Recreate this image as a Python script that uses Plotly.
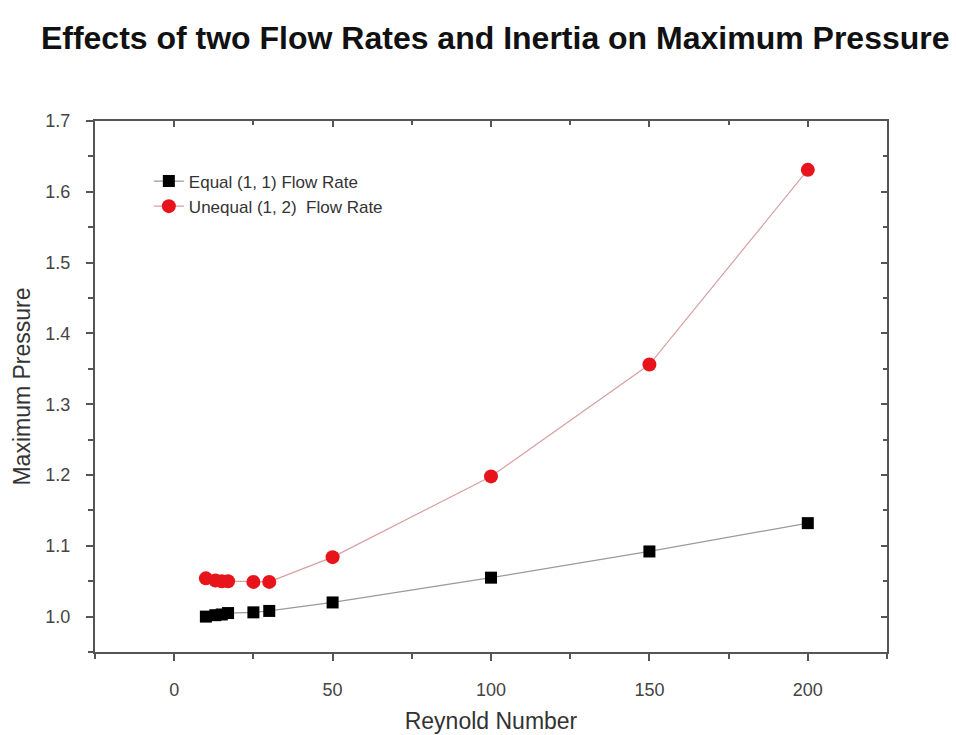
import plotly.graph_objects as go

reynolds = [10, 13, 15, 17, 25, 30, 50, 100, 150, 200]
equal_pressure = [1.000, 1.002, 1.003, 1.005, 1.006, 1.008, 1.020, 1.055, 1.092, 1.132]
unequal_pressure = [1.054, 1.051, 1.050, 1.050, 1.049, 1.049, 1.084, 1.198, 1.356, 1.631]

x_ticks = [0, 50, 100, 150, 200]
y_ticks = [1.0, 1.1, 1.2, 1.3, 1.4, 1.5, 1.6, 1.7]

FONT = "Liberation Sans, Arial, sans-serif"
AXC = "#555555"

fig = go.Figure()
fig.add_trace(go.Scatter(
    x=reynolds, y=equal_pressure, mode="lines+markers",
    name="Equal (1, 1) Flow Rate",
    line=dict(color="#9a9a9a", width=1.2),
    marker=dict(symbol="square", size=12, color="black"),
))
fig.add_trace(go.Scatter(
    x=reynolds, y=unequal_pressure, mode="lines+markers",
    name="Unequal (1, 2)  Flow Rate",
    line=dict(color="#d8a0a0", width=1.2),
    marker=dict(symbol="circle", size=14, color="#e8141c"),
))
# empty helper trace so the mirrored (inside-tick) frame axes are drawn
fig.add_trace(go.Scatter(x=[], y=[], xaxis="x2", yaxis="y2",
                         showlegend=False, hoverinfo="skip"))

axis_common = dict(
    showline=True, linecolor=AXC, linewidth=2, mirror=True,
    ticks="outside", ticklen=7, tickwidth=1.5, tickcolor=AXC,
    showgrid=False, zeroline=False,
    tickfont=dict(family=FONT, size=18, color="#444444"),
)

fig.update_layout(
    width=956, height=735,
    paper_bgcolor="white", plot_bgcolor="white",
    margin=dict(l=95, r=69, t=121, b=83),
    title=dict(text="<b>Effects of two Flow Rates and Inertia on Maximum Pressure</b>",
               x=0.518, xanchor="center", y=0.948, yanchor="middle",
               font=dict(family=FONT, size=32, color="#111111")),
    xaxis=dict(range=[-25, 225], tickvals=x_ticks, ticklabelstandoff=13,
               title=dict(text="Reynold Number", standoff=14,
                          font=dict(family=FONT, size=23, color="#333333")),
               minor=dict(dtick=25, ticks="outside", ticklen=5, tickcolor=AXC),
               automargin=False,
               **axis_common),
    yaxis=dict(range=[0.95, 1.7], tickvals=y_ticks, tickformat=".1f", ticklabelstandoff=12,
               title=dict(text="Maximum Pressure", standoff=8,
                          font=dict(family=FONT, size=23, color="#333333")),
               minor=dict(dtick=0.05, ticks="outside", ticklen=5, tickcolor=AXC),
               automargin=False,
               **axis_common),
    xaxis2=dict(overlaying="x", side="top", matches="x", range=[-25, 225],
                tickvals=x_ticks, showticklabels=False, ticks="inside", ticklen=6,
                tickwidth=1.5, tickcolor=AXC, showgrid=False, zeroline=False,
                showline=False,
                minor=dict(dtick=25, ticks="inside", ticklen=4, tickcolor=AXC)),
    yaxis2=dict(overlaying="y", side="right", matches="y", range=[0.95, 1.7],
                tickvals=y_ticks, showticklabels=False, ticks="inside", ticklen=6,
                tickwidth=1.5, tickcolor=AXC, showgrid=False, zeroline=False,
                showline=False,
                minor=dict(dtick=0.05, ticks="inside", ticklen=4, tickcolor=AXC)),
    legend=dict(x=0.068, y=0.92, xanchor="left", yanchor="top",
                bgcolor="rgba(0,0,0,0)", borderwidth=0,
                font=dict(family=FONT, size=17, color="#333333"),
                itemwidth=30, tracegroupgap=2),
    showlegend=True,
)

fig.write_html("out.html")
